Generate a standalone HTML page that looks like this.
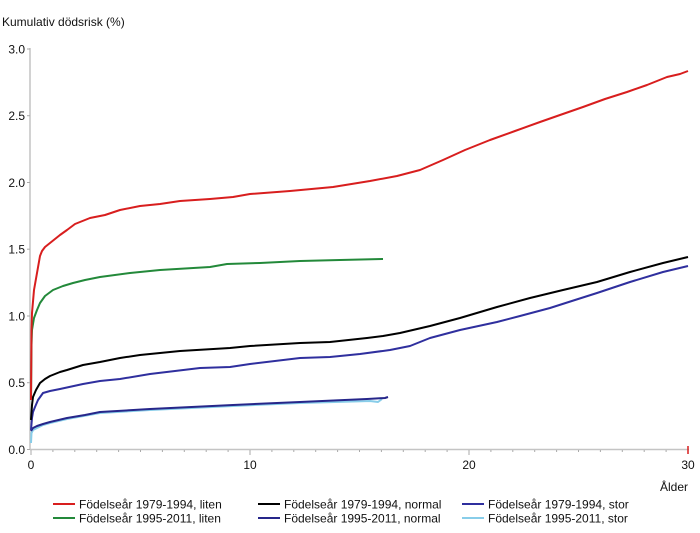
<!DOCTYPE html>
<html>
<head>
<meta charset="utf-8">
<style>
  html,body{margin:0;padding:0;background:#fff;}
  body{width:700px;height:533px;overflow:hidden;}
  svg{display:block;font-family:"Liberation Sans", Arial, sans-serif;}
  text{fill:#111;font-size:12px;}
</style>
</head>
<body>
<svg width="700" height="533" viewBox="0 0 700 533" xmlns="http://www.w3.org/2000/svg">
  <rect width="700" height="533" fill="#fff"/>
  <!-- title -->
  <text x="2" y="26">Kumulativ dödsrisk (%)</text>

  <!-- axes -->
  <line x1="30" y1="48" x2="30" y2="449.5" stroke="#c4c4c4" stroke-width="1.5"/>
  <line x1="30" y1="449.5" x2="689" y2="449.5" stroke="#c4c4c4" stroke-width="1.5"/>

  <!-- y ticks -->
  <g stroke="#aaa" stroke-width="1">
    <line x1="27" y1="49" x2="30" y2="49"/>
    <line x1="27" y1="115.7" x2="30" y2="115.7"/>
    <line x1="27" y1="182.5" x2="30" y2="182.5"/>
    <line x1="27" y1="249.2" x2="30" y2="249.2"/>
    <line x1="27" y1="316" x2="30" y2="316"/>
    <line x1="27" y1="382.7" x2="30" y2="382.7"/>
    <line x1="27" y1="449.5" x2="30" y2="449.5"/>
  </g>
  <g text-anchor="end" font-size="12">
    <text x="25" y="53.5">3.0</text>
    <text x="25" y="120">2.5</text>
    <text x="25" y="187">2.0</text>
    <text x="25" y="253.5">1.5</text>
    <text x="25" y="320.5">1.0</text>
    <text x="25" y="387">0.5</text>
    <text x="25" y="454">0.0</text>
  </g>

  <!-- x ticks -->
  <g stroke="#aaa" stroke-width="1" id="xt">
    <line x1="31" y1="450" x2="31" y2="455"/>
    <line x1="52.9" y1="450" x2="52.9" y2="452"/>
    <line x1="74.8" y1="450" x2="74.8" y2="452"/>
    <line x1="96.7" y1="450" x2="96.7" y2="452"/>
    <line x1="118.6" y1="450" x2="118.6" y2="452"/>
    <line x1="140.5" y1="450" x2="140.5" y2="452"/>
    <line x1="162.4" y1="450" x2="162.4" y2="452"/>
    <line x1="184.3" y1="450" x2="184.3" y2="452"/>
    <line x1="206.2" y1="450" x2="206.2" y2="452"/>
    <line x1="228.1" y1="450" x2="228.1" y2="452"/>
    <line x1="250" y1="450" x2="250" y2="455"/>
    <line x1="271.9" y1="450" x2="271.9" y2="452"/>
    <line x1="293.8" y1="450" x2="293.8" y2="452"/>
    <line x1="315.7" y1="450" x2="315.7" y2="452"/>
    <line x1="337.6" y1="450" x2="337.6" y2="452"/>
    <line x1="359.5" y1="450" x2="359.5" y2="452"/>
    <line x1="381.4" y1="450" x2="381.4" y2="452"/>
    <line x1="403.3" y1="450" x2="403.3" y2="452"/>
    <line x1="425.2" y1="450" x2="425.2" y2="452"/>
    <line x1="447.1" y1="450" x2="447.1" y2="452"/>
    <line x1="469" y1="450" x2="469" y2="455"/>
    <line x1="490.9" y1="450" x2="490.9" y2="452"/>
    <line x1="512.8" y1="450" x2="512.8" y2="452"/>
    <line x1="534.7" y1="450" x2="534.7" y2="452"/>
    <line x1="556.6" y1="450" x2="556.6" y2="452"/>
    <line x1="578.5" y1="450" x2="578.5" y2="452"/>
    <line x1="600.4" y1="450" x2="600.4" y2="452"/>
    <line x1="622.3" y1="450" x2="622.3" y2="452"/>
    <line x1="644.2" y1="450" x2="644.2" y2="452"/>
    <line x1="666.1" y1="450" x2="666.1" y2="452"/>
  </g>
  <line x1="688" y1="446" x2="688" y2="454" stroke="#d81e1e" stroke-width="1.5"/>
  <g text-anchor="middle" font-size="12">
    <text x="31" y="469">0</text>
    <text x="250" y="469">10</text>
    <text x="469" y="469">20</text>
    <text x="688" y="469">30</text>
  </g>
  <text x="688" y="491" text-anchor="end">Ålder</text>

  <!-- series -->
  <g fill="none" stroke-width="2" stroke-linejoin="round" stroke-linecap="butt">
    <!-- 1995-2011 stor (light blue) -->
    <polyline stroke="#88cde9" points="31,443 31.5,433 33,430 37,428 43,425 50,423 67,419 100,413 150,410 233,406 300,403 370,401 378,402 382,399"/>
    <!-- 1995-2011 normal (dark navy) -->
    <polyline stroke="#26268a" points="31,431 33,428 37,426 43,424 50,422 67,418 85,415 100,412 150,409 233,405 300,402 367,399 385,398 388,397"/>
    <!-- 1979-1994 stor (blue) -->
    <polyline stroke="#2f2f9e" points="31,430 32,418 33,412 35,407 38,400 43,393 50,391 60,389 83,384 100,381 120,379 150,374 200,368 230,367 250,364 300,358 330,357 360,354 390,350 410,346 430,338 460,330 497,322 520,316 550,308 575,300 597,293 630,282 663,272 688,266"/>
    <!-- 1979-1994 normal (black) -->
    <polyline stroke="#000" points="31,420 32,405 33,397 36,390 40,383 45,379 50,376 60,372 67,370 83,365 100,362 120,358 140,355 180,351 230,348 250,346 300,343 330,342 367,338 383,336 400,333 430,326 460,318 497,307 530,298 563,290 597,282 630,272 663,263 688,257"/>
    <!-- 1995-2011 liten (green) -->
    <polyline stroke="#23893a" points="31,400 31.5,345 32,330 34,318 37,310 40,303 45,296 53,290 63,286 73,283 85,280 100,277 130,273 160,270 210,267 227,264 260,263 300,261 340,260 383,259"/>
    <!-- 1979-1994 liten (red) -->
    <polyline stroke="#d81e1e" points="31,400 31.5,330 32,313 34,290 37,273 40,256 42,251 45,247 50,243 60,235 67,230 75,224 90,218 105,215 120,210 140,206 160,204 180,201 210,199 233,197 250,194 290,191 333,187 370,181 397,176 420,170 443,160 465,150 490,140 515,131 540,122 560,115 583,107 605,99 627,92 647,85 667,77 680,74 688,71"/>
  </g>

  <!-- legend -->
  <g stroke-width="2">
    <line x1="53" y1="504" x2="75" y2="504" stroke="#d81e1e"/>
    <line x1="53" y1="518" x2="75" y2="518" stroke="#23893a"/>
    <line x1="258" y1="504" x2="280" y2="504" stroke="#000"/>
    <line x1="258" y1="518" x2="280" y2="518" stroke="#26268a"/>
    <line x1="462" y1="504" x2="484" y2="504" stroke="#2f2f9e"/>
    <line x1="462" y1="518" x2="484" y2="518" stroke="#88cde9"/>
  </g>
  <g font-size="12">
    <text x="79" y="508.5">Födelseår 1979-1994, liten</text>
    <text x="79" y="522.5">Födelseår 1995-2011, liten</text>
    <text x="284" y="508.5">Födelseår 1979-1994, normal</text>
    <text x="284" y="522.5">Födelseår 1995-2011, normal</text>
    <text x="488" y="508.5">Födelseår 1979-1994, stor</text>
    <text x="488" y="522.5">Födelseår 1995-2011, stor</text>
  </g>
</svg>
</body>
</html>
